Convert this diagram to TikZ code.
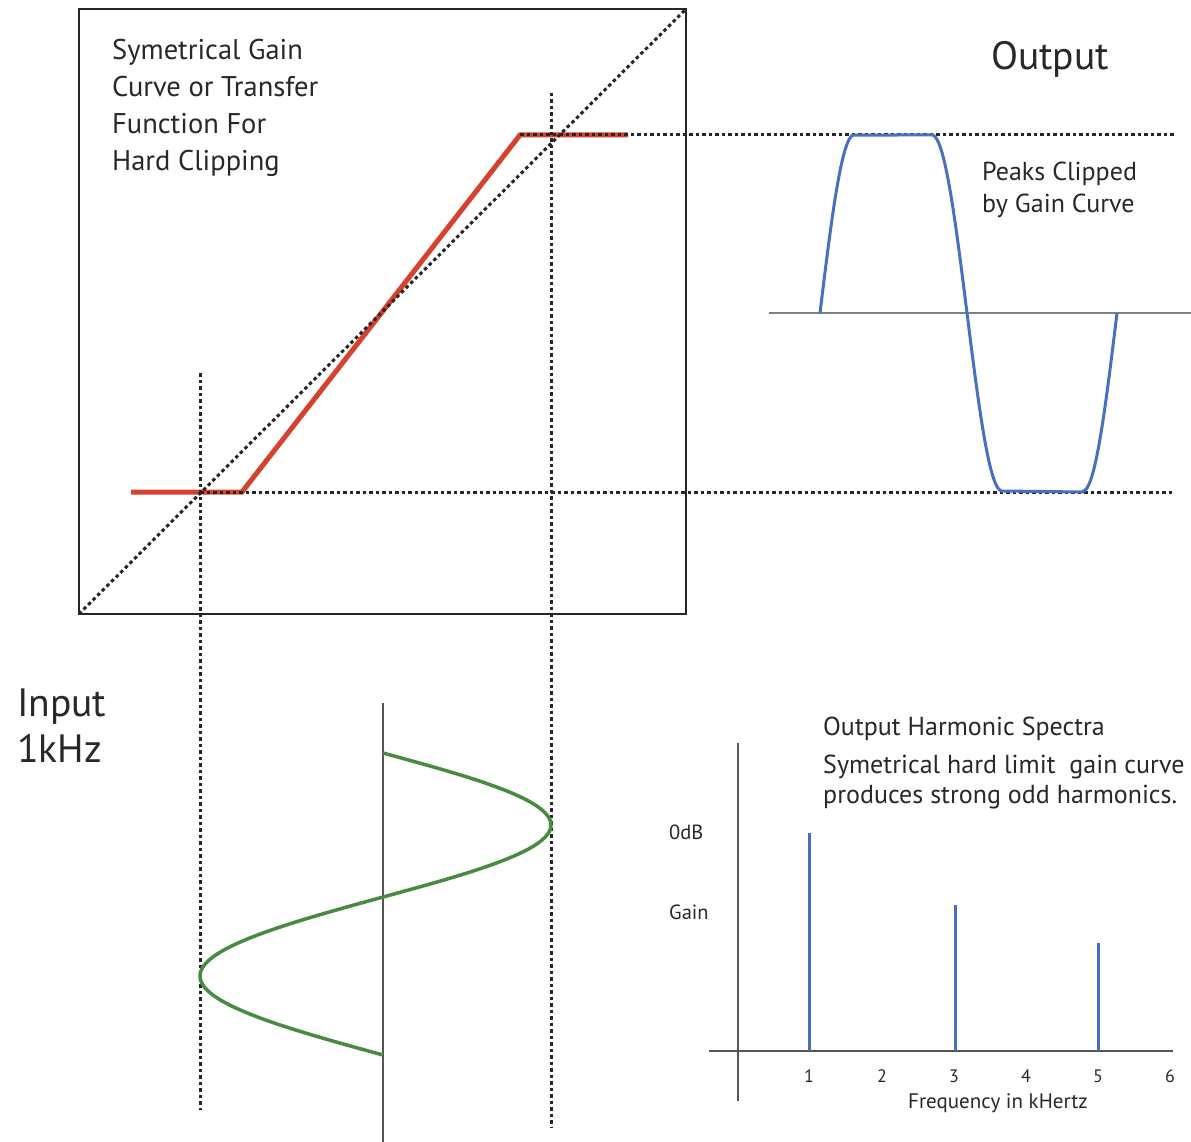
\documentclass[tikz,border=0pt]{standalone}
\usepackage{fontspec}
\setmainfont{PT Sans}
\definecolor{clipred}{RGB}{214,66,48}
\definecolor{waveblue}{RGB}{72,112,190}
\definecolor{wavegreen}{RGB}{72,138,64}
\definecolor{axisgray}{RGB}{128,128,128}
\definecolor{darkaxis}{RGB}{85,85,85}
\definecolor{txt}{RGB}{40,40,40}
\begin{document}
\begin{tikzpicture}[x=1pt,y=-1pt,
  dotline/.style={line width=3pt,dash pattern=on 3.5pt off 3pt,black!85},
  lbl/.style={anchor=base west,inner sep=0pt,text=txt},
  big/.style={font=\fontsize{39.5}{44}\selectfont},
  mid/.style={font=\fontsize{28.5}{32}\selectfont},
  smalltxt/.style={font=\fontsize{26}{30}\selectfont},
  tiny/.style={font=\fontsize{20.5}{24}\selectfont},
  tick/.style={anchor=base,inner sep=0pt,text=txt,font=\fontsize{18}{21}\selectfont}]
\useasboundingbox (0,0) rectangle (1191,1142);
\fill[white] (0,0) rectangle (1191,1142);

% transfer-function box
\coordinate (bl) at (79,614);
\coordinate (tr) at (686,9);
\draw[line width=1.5pt,black!85] (bl) rectangle (tr);

% red gain curve
\coordinate (r1) at (131,492);
\coordinate (r2) at (242,492);
\coordinate (r3) at (520,135);
\coordinate (r4) at (628,135);
\draw[clipred,line width=5pt,line join=miter] (r1) -- (r2) -- (r3) -- (r4);

% dotted guides
\draw[dotline] (bl) -- (tr);
\coordinate (vl1) at (200,373);
\coordinate (vl2) at (200,1110);
\coordinate (vr1) at (551,93);
\coordinate (vr2) at (551,1128);
\draw[dotline] (vl1) -- (vl2);
\draw[dotline] (vr1) -- (vr2);
\coordinate (ht1) at (520,135);
\coordinate (ht2) at (1176,135);
\coordinate (hb1) at (200,492);
\coordinate (hb2) at (1172,492);
\draw[dotline] (ht1) -- (ht2);
\draw[dotline] (hb1) -- (hb2);

% labels top
\node[lbl,mid] (t1) at (112,60) {Symetrical Gain};
\node[lbl,mid] (t2) at (112,97) {Curve or Transfer};
\node[lbl,mid] (t3) at (112,134) {Function For};
\node[lbl,mid] (t4) at (112,171) {Hard Clipping};
\node[lbl,big] (out) at (991,70) {Output};
\node[lbl,font=\fontsize{26}{30}\selectfont] (p1) at (982,181) {Peaks Clipped};
\node[lbl,font=\fontsize{26}{30}\selectfont] (p2) at (982,213) {by Gain Curve};

% output wave
\coordinate (oa1) at (769,313);
\coordinate (oa2) at (1191,313);
\draw[axisgray,line width=2.5pt] (oa1) -- (oa2);
\draw[waveblue,line width=3pt,line join=round]
  plot[domain=0:90,samples=40] ({820+\x/90*34},{313-178*sin(\x)})
  -- (932,135)
  -- plot[domain=0:180,samples=70] ({932+\x/180*70},{313-178*cos(\x)})
  -- (1083,492)
  -- plot[domain=0:90,samples=40] ({1083+\x/90*34},{313+178*cos(\x)});

% input wave
\coordinate (ia1) at (383,703);
\coordinate (ia2) at (383,1142);
\draw[darkaxis,line width=1.8pt] (ia1) -- (ia2);
\draw[wavegreen,line width=3.5pt,line join=round]
  plot[domain=0:180,samples=90] ({383+168*sin(\x)},{753+\x/180*144})
  -- plot[domain=0:180,samples=90] ({383-183*sin(\x)},{897+\x/180*158});
\node[lbl,big] (in1) at (17,716) {Input};
\node[lbl,big] (in2) at (17,762) {1kHz};

% spectrum
\coordinate (sy1) at (738,743);
\coordinate (sy2) at (738,1101);
\coordinate (sx1) at (709,1051);
\coordinate (sx2) at (1173,1051);
\draw[darkaxis,line width=2.2pt] (sy1) -- (sy2);
\draw[darkaxis,line width=2.2pt] (sx1) -- (sx2);
\coordinate (b1t) at (809,833);
\coordinate (b1b) at (809,1051);
\coordinate (b3t) at (955,905);
\coordinate (b3b) at (955,1051);
\coordinate (b5t) at (1098,943);
\coordinate (b5b) at (1098,1051);
\draw[waveblue,line width=3pt] (b1t) -- (b1b);
\draw[waveblue,line width=3pt] (b3t) -- (b3b);
\draw[waveblue,line width=3pt] (b5t) -- (b5b);
\node[tick] (k1) at (809,1082) {1};
\node[tick] (k2) at (882,1082) {2};
\node[tick] (k3) at (954,1082) {3};
\node[tick] (k4) at (1026,1082) {4};
\node[tick] (k5) at (1098,1082) {5};
\node[tick] (k6) at (1170,1082) {6};
\node[tick,font=\fontsize{21}{24}\selectfont] (fq) at (998,1108) {Frequency in kHertz};
\node[lbl,tiny] (db) at (669,839) {0dB};
\node[lbl,tiny] (gn) at (669,919) {Gain};
\node[lbl,smalltxt] (s1) at (823,735) {Output Harmonic Spectra};
\node[lbl,smalltxt] (s2) at (823,773) {Symetrical hard limit \ gain curve};
\node[lbl,smalltxt] (s3) at (823,803) {produces strong odd harmonics.};
\end{tikzpicture}
\end{document}
